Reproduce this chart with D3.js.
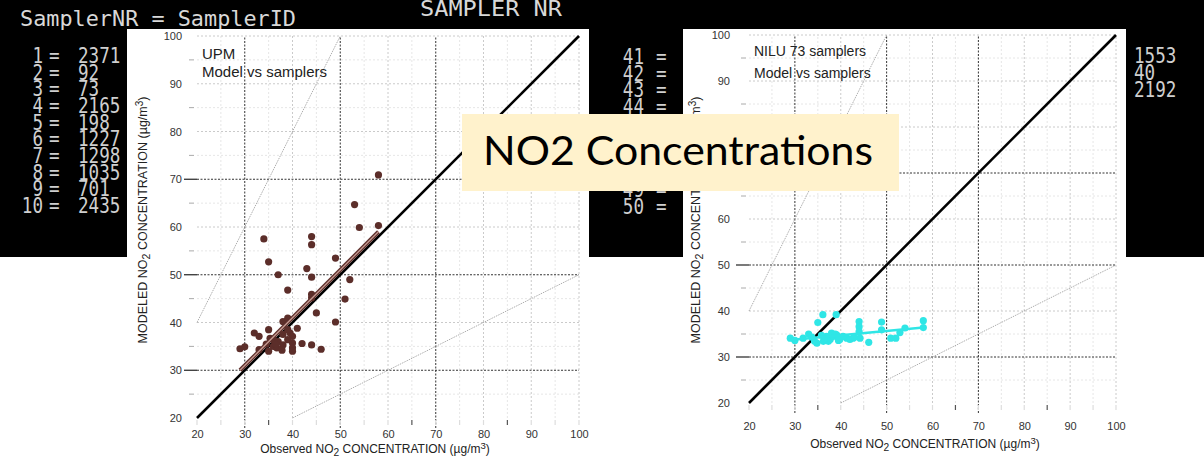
<!DOCTYPE html>
<html>
<head>
<meta charset="utf-8">
<script src="https://cdn.jsdelivr.net/npm/d3@7"></script>
<style>
  body { margin: 0; background: #fff; }
  svg { display: block; }
</style>
</head>
<body>
<svg id="canvas" width="1204" height="469"></svg>
<script>
// axis ticks (both plots use 20..100 on both axes)
const axisTicks = [20, 30, 40, 50, 60, 70, 80, 90, 100];
const fiveTicks = [25, 35, 45, 55, 65, 75, 85, 95];
const darkLines = [30, 50, 70];
const darkMinor = [35, 65, 85];

// UPM: observed vs modeled
const upmObs = [34, 35, 37, 39, 44, 44, 43, 44, 49, 52, 51, 53, 54, 58, 58, 44, 44, 45, 49,
  29, 30, 32, 33, 35, 33, 35, 36, 38, 38, 39, 41, 39.5, 40, 39, 40, 40, 42, 44, 46,
  36.7, 37.8, 35.3, 36, 37, 38, 36.5, 39, 40, 34.5];
const upmMod = [57.5, 52.7, 50, 46.8, 58, 56.3, 51.3, 49.5, 53.5, 49, 44.9, 64.7, 59.9, 60.3, 70.9, 45.9, 45.2, 42, 40.1,
  34.5, 34.9, 37.8, 37.1, 38.5, 34.3, 34, 35, 35.3, 40.2, 40.9, 38.8, 37.8, 37.1, 36.4, 35.7, 34.7, 35.6, 35.3, 34.4,
  34.7, 34.2, 36.7, 36.4, 36, 37.5, 35.5, 38.5, 34, 35.5];
const upmFitObs = [29, 58];
const upmFitMod = [30, 59];

// NILU 73 samplers
const niluObs = [29, 30, 33, 31.8, 35, 36.1, 39, 34.8, 36.2, 37.7, 38.4, 39.1, 39.8, 41.3, 42.7,
  44, 44, 44, 44.2, 46.1, 48.9, 48.9, 50.9, 52, 52.9, 54, 58, 58, 33.7, 36.9, 38, 40.5, 42,
  35.8, 37.3, 34.3, 38.8, 36.5, 39.5, 43];
const niluMod = [34.1, 33.6, 35, 34.1, 37.5, 39.2, 39.2, 33, 33.4, 33.8, 34.5, 34.8, 33.8, 34.1, 34.1,
  37.7, 36.6, 35.5, 34.1, 33.2, 37.6, 35.9, 34.1, 34.1, 35.3, 36.3, 37.9, 36.4, 34.3, 34.5, 35.2, 34.5, 33.8,
  34.7, 33.4, 33.4, 35, 34, 33.6, 34.3];
const niluFitObs = [29, 58];
const niluFitMod = [33.7, 36.4];

// sampler number lists in the black strips (45-48 sit behind the caption box)
const leftIds = ["1", "2", "3", "4", "5", "6", "7", "8", "9", "10"];
const leftVals = ["2371", "92", "73", "2165", "198", "1227", "1298", "1035", "701", "2435"];
const midIds = ["41", "42", "43", "44", "49", "50"];
const midRow = [0, 1, 2, 3, 8, 9];
const rightVals = ["1553", "40", "2192"];

const svg = d3.select('#canvas');
const mono = "'DejaVu Sans Mono', monospace";
const sans = "'Liberation Sans', Arial, sans-serif";
const sx = 0.8; // condensed look of the screen font

// black background strip
svg.append('rect').attr('x', 0).attr('y', 0).attr('width', 1204).attr('height', 257).attr('fill', '#000');

svg.append('text').attr('x', 20).attr('y', 26)
  .attr('font-family', mono).attr('font-size', 21).attr('fill', '#d8d8d8')
  .attr('textLength', 276).attr('lengthAdjust', 'spacingAndGlyphs')
  .text('SamplerNR = SamplerID');

svg.append('text').attr('x', 420).attr('y', 16)
  .attr('font-family', mono).attr('font-size', 21).attr('fill', '#d8d8d8')
  .attr('textLength', 142).attr('lengthAdjust', 'spacingAndGlyphs')
  .text('SAMPLER NR');

const rowY = d3.scaleLinear().domain([0, 9]).range([63, 213]);

const rows = svg.append('g').attr('transform', `scale(${sx},1)`)
  .attr('font-family', mono).attr('font-size', 22).attr('fill', '#cfcfcf');
rows.selectAll('.lid').data(leftIds).join('text').attr('class', 'lid')
  .attr('x', 43 / sx).attr('y', (d, i) => rowY(i)).attr('text-anchor', 'end').text(d => d);
rows.selectAll('.leq').data(leftIds).join('text').attr('class', 'leq')
  .attr('x', 49 / sx).attr('y', (d, i) => rowY(i)).text('=');
rows.selectAll('.lval').data(leftVals).join('text').attr('class', 'lval')
  .attr('x', 78 / sx).attr('y', (d, i) => rowY(i)).text(d => d);
rows.selectAll('.mid').data(midIds).join('text').attr('class', 'mid')
  .attr('x', 644 / sx).attr('y', (d, i) => rowY(midRow[i]) + 1).attr('text-anchor', 'end').text(d => d);
rows.selectAll('.meq').data(midIds).join('text').attr('class', 'meq')
  .attr('x', 656 / sx).attr('y', (d, i) => rowY(midRow[i]) + 1).text('=');
rows.selectAll('.rval').data(rightVals).join('text').attr('class', 'rval')
  .attr('x', 1134 / sx).attr('y', (d, i) => 63 + i * 17).text(d => d);

function subLabel(sel, pre) {
  sel.append('tspan').text(pre + 'NO');
  sel.append('tspan').attr('dy', 3).attr('font-size', '0.85em').text('2');
  sel.append('tspan').attr('dy', -3).text(' CONCENTRATION (\u00b5g/m');
  sel.append('tspan').attr('dy', -4).attr('font-size', '0.8em').text('3');
  sel.append('tspan').attr('dy', 4).text(')');
}

function drawPanel(cfg) {
  const g = svg.append('g');
  g.append('rect').attr('x', cfg.px).attr('y', 29).attr('width', cfg.pw).attr('height', 440).attr('fill', '#fff');

  const x = d3.scaleLinear().domain([20, 100]).range([cfg.left, cfg.right]);
  const y = d3.scaleLinear().domain([20, 100]).range([cfg.bottom, cfg.top]);

  // faint grid at odd fives
  g.selectAll('.fv').data(fiveTicks).join('line')
    .attr('x1', d => x(d)).attr('x2', d => x(d)).attr('y1', y(20)).attr('y2', y(100))
    .attr('stroke', '#e6e6e6').attr('stroke-dasharray', '2,2');
  g.selectAll('.fh').data(fiveTicks).join('line')
    .attr('y1', d => y(d)).attr('y2', d => y(d)).attr('x1', x(20)).attr('x2', x(100))
    .attr('stroke', '#e6e6e6').attr('stroke-dasharray', '2,2');

  // light grid at tens
  const light = axisTicks.filter(d => d !== 20 && !darkLines.includes(d));
  g.selectAll('.lv').data(light).join('line')
    .attr('x1', d => x(d)).attr('x2', d => x(d)).attr('y1', y(20)).attr('y2', y(100))
    .attr('stroke', '#c4c4c4').attr('stroke-width', 0.9).attr('stroke-dasharray', '2,2');
  g.selectAll('.lh').data(light).join('line')
    .attr('y1', d => y(d)).attr('y2', d => y(d)).attr('x1', x(20)).attr('x2', x(100))
    .attr('stroke', '#c4c4c4').attr('stroke-width', 0.9).attr('stroke-dasharray', '2,2');

  // dark dotted grid at 30, 50, 70
  g.selectAll('.dv').data(darkLines).join('line')
    .attr('x1', d => x(d)).attr('x2', d => x(d)).attr('y1', y(20) + 10).attr('y2', y(100))
    .attr('stroke', '#333').attr('stroke-width', 1).attr('stroke-dasharray', '2,1.5');
  g.selectAll('.dh').data(darkLines).join('line')
    .attr('y1', d => y(d)).attr('y2', d => y(d)).attr('x1', x(20)).attr('x2', x(100))
    .attr('stroke', '#333').attr('stroke-width', 1).attr('stroke-dasharray', '2,1.5');

  // tick marks
  g.selectAll('.tl').data(darkLines).join('line')
    .attr('x1', x(20) - 13).attr('x2', x(20)).attr('y1', d => y(d)).attr('y2', d => y(d))
    .attr('stroke', '#222').attr('stroke-width', 1.2);
  g.selectAll('.tm').data(fiveTicks).join('line')
    .attr('x1', x(20) - 8).attr('x2', x(20) - 3).attr('y1', d => y(d)).attr('y2', d => y(d))
    .attr('stroke', '#aaa').attr('stroke-width', 1);
  g.selectAll('.bm').data(fiveTicks.concat(axisTicks)).join('line')
    .attr('x1', d => x(d)).attr('x2', d => x(d)).attr('y1', y(20) + 2).attr('y2', y(20) + 7)
    .attr('stroke', d => darkMinor.includes(d) ? '#555' : '#ddd').attr('stroke-width', 1.2);

  // tick labels via axes
  const yAxis = g.append('g').attr('transform', `translate(${x(20)},0)`)
    .call(d3.axisLeft(y).tickValues(axisTicks).tickSize(0).tickPadding(cfg.ypad));
  const xAxis = g.append('g').attr('transform', `translate(0,${y(20)})`)
    .call(d3.axisBottom(x).tickValues(axisTicks).tickSize(0).tickPadding(cfg.xpad));
  [yAxis, xAxis].forEach(a => {
    a.select('.domain').remove();
    a.selectAll('text').attr('font-family', sans).attr('font-size', 11).attr('fill', '#333');
  });

  // factor-of-two lines
  g.append('line').attr('x1', x(20)).attr('y1', y(40)).attr('x2', x(50)).attr('y2', y(100))
    .attr('stroke', '#999').attr('stroke-width', 0.8).attr('stroke-dasharray', '1.5,1');
  g.append('line').attr('x1', x(40)).attr('y1', y(20)).attr('x2', x(100)).attr('y2', y(50))
    .attr('stroke', '#999').attr('stroke-width', 0.8).attr('stroke-dasharray', '1.5,1');

  // 1:1 line
  g.append('line').attr('x1', x(20)).attr('y1', y(20)).attr('x2', x(100)).attr('y2', y(100))
    .attr('stroke', '#000').attr('stroke-width', 2.6);

  // points
  g.selectAll('.pt').data(cfg.obs).join('circle')
    .attr('cx', d => x(d)).attr('cy', (d, i) => y(cfg.mod[i])).attr('r', 3.6)
    .attr('fill', cfg.color);

  // regression line
  const fit = d3.line().x(d => x(d[0])).y(d => y(d[1]));
  const fitPts = cfg.fitObs.map((d, i) => [d, cfg.fitMod[i]]);
  g.append('path').attr('d', fit(fitPts)).attr('stroke', cfg.color).attr('stroke-width', cfg.fitWidth).attr('fill', 'none');
  if (cfg.fitInner) {
    g.append('path').attr('d', fit(fitPts)).attr('stroke', cfg.fitInner).attr('stroke-width', 1.3).attr('fill', 'none');
  }

  // titles
  cfg.title.forEach((t, i) => {
    g.append('text').attr('x', x(20) + 5).attr('y', cfg.titleY[i])
      .attr('font-family', sans).attr('font-size', cfg.titleSize).attr('fill', '#222').text(t);
  });

  // axis titles
  const xl = g.append('text').attr('x', cfg.xlabX).attr('y', cfg.xlabY).attr('text-anchor', 'middle')
    .attr('font-family', sans).attr('font-size', 12).attr('fill', '#222');
  subLabel(xl, 'Observed ');
  const yl = g.append('text').attr('transform', `translate(${cfg.ylabX},220) rotate(-90)`).attr('text-anchor', 'middle')
    .attr('font-family', sans).attr('font-size', 12.5).attr('fill', '#222');
  subLabel(yl, 'MODELED ');
}

drawPanel({
  px: 127, pw: 462, left: 197, right: 579, top: 36, bottom: 418,
  ypad: 15, xpad: 12,
  obs: upmObs, mod: upmMod, fitObs: upmFitObs, fitMod: upmFitMod,
  color: '#5c2e2a', fitWidth: 4, fitInner: '#c79c93',
  title: ['UPM', 'Model vs samplers'], titleY: [59, 77], titleSize: 15,
  xlabX: 375, xlabY: 453, ylabX: 147
});

drawPanel({
  px: 683, pw: 443, left: 749, right: 1116, top: 35, bottom: 403,
  ypad: 19, xpad: 19,
  obs: niluObs, mod: niluMod, fitObs: niluFitObs, fitMod: niluFitMod,
  color: '#2fe6e6', fitWidth: 2.5, fitInner: null,
  title: ['NILU 73 samplers', 'Model vs samplers'], titleY: [56, 78], titleSize: 14,
  xlabX: 925, xlabY: 448, ylabX: 700
});

// caption box
svg.append('rect').attr('x', 462).attr('y', 114).attr('width', 437).attr('height', 77).attr('fill', '#fff2cc');
svg.append('text').attr('x', 483).attr('y', 165)
  .attr('font-family', "Lato, 'Open Sans', sans-serif").attr('font-size', 40).attr('fill', '#000')
  .attr('textLength', 390).attr('lengthAdjust', 'spacingAndGlyphs')
  .text('NO2 Concentrations');
</script>
</body>
</html>
